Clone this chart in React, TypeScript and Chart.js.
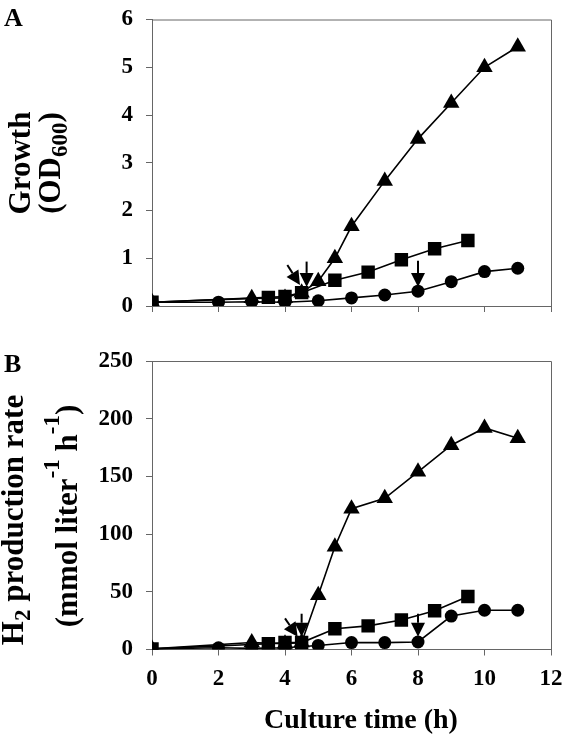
import React, { useEffect, useRef } from 'react';
import { Chart, registerables } from 'chart.js';

Chart.register(...registerables);

// ---------- data ----------
const timeCircle = [0, 2, 3, 4, 5, 6, 7, 8, 9, 10, 11];
const timeSquare = [0, 3.5, 4, 4.5, 5.5, 6.5, 7.5, 8.5, 9.5];
const timeTriangle = [0, 3, 4, 4.5, 5, 5.5, 6, 7, 8, 9, 10, 11];

// Panel A: growth (OD600)
const odCircle = [0.08, 0.08, 0.09, 0.08, 0.11, 0.17, 0.23, 0.31, 0.51, 0.72, 0.79];
const odSquare = [0.08, 0.18, 0.2, 0.28, 0.54, 0.71, 0.97, 1.2, 1.37];
const odTriangle = [0.08, 0.16, 0.17, 0.28, 0.52, 1.0, 1.67, 2.62, 3.5, 4.25, 5.0, 5.43];

// Panel B: H2 production rate
const h2Circle = [0.5, 1.5, 1, 1.5, 3.5, 6, 6, 6.5, 29, 34, 34];
const h2Square = [0.5, 5, 6, 6, 18, 20.5, 25.5, 33.5, 46];
const h2Triangle = [0.5, 6, 5, 6, 47, 89, 122, 131, 154, 177, 192, 183];

// axis ticks
const xTicks = [0, 2, 4, 6, 8, 10, 12];
const yTicksA = [0, 1, 2, 3, 4, 5, 6];
const yTicksB = [0, 50, 100, 150, 200, 250];

// arrows (data coordinates: tail -> tip)
const arrowsA = [
  { x1: 4.07, y1: 0.86, x2: 4.45, y2: 0.44 },
  { x1: 4.65, y1: 0.93, x2: 4.65, y2: 0.4 },
  { x1: 8, y1: 0.95, x2: 8, y2: 0.4 },
];
const arrowsB = [
  { x1: 4.0, y1: 27, x2: 4.38, y2: 11 },
  { x1: 4.5, y1: 31, x2: 4.5, y2: 11 },
  { x1: 8, y1: 31, x2: 8, y2: 11 },
];

const SERIF = "'Liberation Serif', 'Times New Roman', Times, serif";
const AXIS_COLOR = '#666';
const W = 566;
const H = 737;

type Run = { t: string; s: number; dy: number };

function drawRunsVertical(ctx: CanvasRenderingContext2D, runs: Run[], bx: number, cy: number) {
  ctx.save();
  ctx.translate(bx, cy);
  ctx.rotate(-Math.PI / 2);
  ctx.fillStyle = '#000';
  ctx.textBaseline = 'alphabetic';
  ctx.textAlign = 'left';
  let total = 0;
  const widths = runs.map((r) => {
    ctx.font = `bold ${r.s}px ${SERIF}`;
    const w = ctx.measureText(r.t).width;
    total += w;
    return w;
  });
  let x = -total / 2;
  runs.forEach((r, i) => {
    ctx.font = `bold ${r.s}px ${SERIF}`;
    ctx.fillText(r.t, x, r.dy);
    x += widths[i];
  });
  ctx.restore();
}

function drawArrow(ctx: CanvasRenderingContext2D, x1: number, y1: number, x2: number, y2: number) {
  const headLen = 14;
  const headHalf = 7;
  const dx = x2 - x1;
  const dy = y2 - y1;
  const len = Math.hypot(dx, dy);
  const ux = dx / len;
  const uy = dy / len;
  const bx = x2 - ux * headLen;
  const by = y2 - uy * headLen;
  ctx.save();
  ctx.strokeStyle = '#000';
  ctx.fillStyle = '#000';
  ctx.lineWidth = 2;
  ctx.beginPath();
  ctx.moveTo(x1, y1);
  ctx.lineTo(bx, by);
  ctx.stroke();
  ctx.beginPath();
  ctx.moveTo(x2, y2);
  ctx.lineTo(bx - uy * headHalf, by + ux * headHalf);
  ctx.lineTo(bx + uy * headHalf, by - ux * headHalf);
  ctx.closePath();
  ctx.fill();
  ctx.restore();
}

function makeSeries(t: number[], v: number[], style: string, r: number) {
  return {
    data: t.map((x, i) => ({ x, y: v[i] })),
    showLine: true,
    borderColor: '#000',
    backgroundColor: '#000',
    pointBackgroundColor: '#000',
    pointBorderColor: '#000',
    borderWidth: 1.6,
    pointBorderWidth: 0,
    pointStyle: style,
    pointRadius: r,
    pointHoverRadius: r,
    tension: 0,
  };
}

type Panel = {
  tCircle: number[];
  tSquare: number[];
  tTriangle: number[];
  vCircle: number[];
  vSquare: number[];
  vTriangle: number[];
  yTicks: number[];
  arrows: { x1: number; y1: number; x2: number; y2: number }[];
  top: number;
  bottom: number;
  showXLabels: boolean;
  extra: (ctx: CanvasRenderingContext2D) => void;
};

function buildChart(canvas: HTMLCanvasElement, p: Panel) {
  const xAxisHeight = H - p.bottom;
  const overlay = {
    id: 'overlay',
    afterDraw(chart: any) {
      const ctx = chart.ctx as CanvasRenderingContext2D;
      const a = chart.chartArea;
      ctx.save();
      ctx.strokeStyle = AXIS_COLOR;
      ctx.lineWidth = 1;
      ctx.beginPath();
      ctx.moveTo(a.left, a.top + 0.5);
      ctx.lineTo(a.right + 0.5, a.top + 0.5);
      ctx.lineTo(a.right + 0.5, a.bottom);
      ctx.stroke();
      ctx.restore();
      const xs = chart.scales.x;
      const ys = chart.scales.y;
      p.arrows.forEach((ar) => {
        drawArrow(
          ctx,
          xs.getPixelForValue(ar.x1),
          ys.getPixelForValue(ar.y1),
          xs.getPixelForValue(ar.x2),
          ys.getPixelForValue(ar.y2)
        );
      });
      p.extra(ctx);
    },
  };
  return new Chart(canvas, {
    type: 'scatter',
    data: {
      datasets: [
        makeSeries(p.tTriangle, p.vTriangle, 'triangle', 9.5) as any,
        makeSeries(p.tSquare, p.vSquare, 'rect', 9.5) as any,
        makeSeries(p.tCircle, p.vCircle, 'circle', 6.5) as any,
      ],
    },
    options: {
      animation: false,
      responsive: false,
      devicePixelRatio: 1,
      events: [],
      layout: { padding: { top: p.top, right: W - 551, left: 0, bottom: 0 } },
      plugins: { legend: { display: false }, tooltip: { enabled: false } },
      scales: {
        x: {
          type: 'linear',
          min: 0,
          max: 12,
          afterFit: (s: any) => {
            s.height = xAxisHeight;
            s.paddingLeft = 0;
            s.paddingRight = 0;
          },
          afterBuildTicks: (s: any) => {
            s.ticks = xTicks.map((v) => ({ value: v }));
          },
          grid: { display: true, drawOnChartArea: false, drawTicks: true, tickLength: 6, color: AXIS_COLOR, lineWidth: 1 },
          border: { display: true, color: AXIS_COLOR, width: 1 },
          ticks: {
            display: p.showXLabels,
            color: '#000',
            padding: 10,
            maxRotation: 0,
            font: { family: SERIF, weight: 'bold', size: 23 },
          },
        },
        y: {
          type: 'linear',
          min: p.yTicks[0],
          max: p.yTicks[p.yTicks.length - 1],
          afterFit: (s: any) => {
            s.width = 152;
            s.paddingTop = 0;
            s.paddingBottom = 0;
          },
          afterBuildTicks: (s: any) => {
            s.ticks = p.yTicks.map((v) => ({ value: v }));
          },
          grid: { display: true, drawOnChartArea: false, drawTicks: true, tickLength: 6, color: AXIS_COLOR, lineWidth: 1 },
          border: { display: true, color: AXIS_COLOR, width: 1 },
          ticks: {
            color: '#000',
            padding: 13,
            font: { family: SERIF, weight: 'bold', size: 23 },
          },
        },
      },
    } as any,
    plugins: [overlay],
  });
}

export default function App() {
  const refA = useRef<HTMLCanvasElement>(null);
  const refB = useRef<HTMLCanvasElement>(null);

  useEffect(() => {
    document.body.style.margin = '0';
    const chartA = buildChart(refA.current!, {
      tCircle: timeCircle,
      tSquare: timeSquare,
      tTriangle: timeTriangle,
      vCircle: odCircle,
      vSquare: odSquare,
      vTriangle: odTriangle,
      yTicks: yTicksA,
      arrows: arrowsA,
      top: 19.5,
      bottom: 306,
      showXLabels: false,
      extra: (ctx) => {
        ctx.save();
        ctx.fillStyle = '#000';
        ctx.font = `bold 26px ${SERIF}`;
        ctx.textAlign = 'left';
        ctx.textBaseline = 'alphabetic';
        ctx.fillText('A', 4, 26);
        ctx.restore();
        drawRunsVertical(ctx, [{ t: 'Growth', s: 31, dy: 0 }], 30, 163);
        drawRunsVertical(
          ctx,
          [
            { t: '(OD', s: 31, dy: 0 },
            { t: '600', s: 23, dy: 7 },
            { t: ')', s: 31, dy: 0 },
          ],
          60,
          163
        );
      },
    });
    const chartB = buildChart(refB.current!, {
      tCircle: timeCircle,
      tSquare: timeSquare,
      tTriangle: timeTriangle,
      vCircle: h2Circle,
      vSquare: h2Square,
      vTriangle: h2Triangle,
      yTicks: yTicksB,
      arrows: arrowsB,
      top: 361,
      bottom: 649.5,
      showXLabels: true,
      extra: (ctx) => {
        ctx.save();
        ctx.fillStyle = '#000';
        ctx.font = `bold 26px ${SERIF}`;
        ctx.textAlign = 'left';
        ctx.textBaseline = 'alphabetic';
        ctx.fillText('B', 4, 372);
        ctx.font = `bold 28px ${SERIF}`;
        ctx.textAlign = 'center';
        ctx.fillText('Culture time (h)', 361, 728);
        ctx.restore();
        drawRunsVertical(
          ctx,
          [
            { t: 'H', s: 31, dy: 0 },
            { t: '2', s: 23, dy: 7 },
            { t: ' production rate', s: 31, dy: 0 },
          ],
          23,
          520
        );
        drawRunsVertical(
          ctx,
          [
            { t: '(mmol liter', s: 31, dy: 0 },
            { t: '-1', s: 23, dy: -18 },
            { t: ' h', s: 31, dy: 0 },
            { t: '-1', s: 23, dy: -18 },
            { t: ')', s: 31, dy: 0 },
          ],
          77,
          516
        );
      },
    });
    return () => {
      chartA.destroy();
      chartB.destroy();
    };
  }, []);

  const style: React.CSSProperties = { position: 'absolute', left: 0, top: 0, width: W, height: H };
  return (
    <div style={{ position: 'fixed', left: 0, top: 0, width: W, height: H, background: '#fff' }}>
      <canvas ref={refA} width={W} height={H} style={style} />
      <canvas ref={refB} width={W} height={H} style={style} />
    </div>
  );
}
